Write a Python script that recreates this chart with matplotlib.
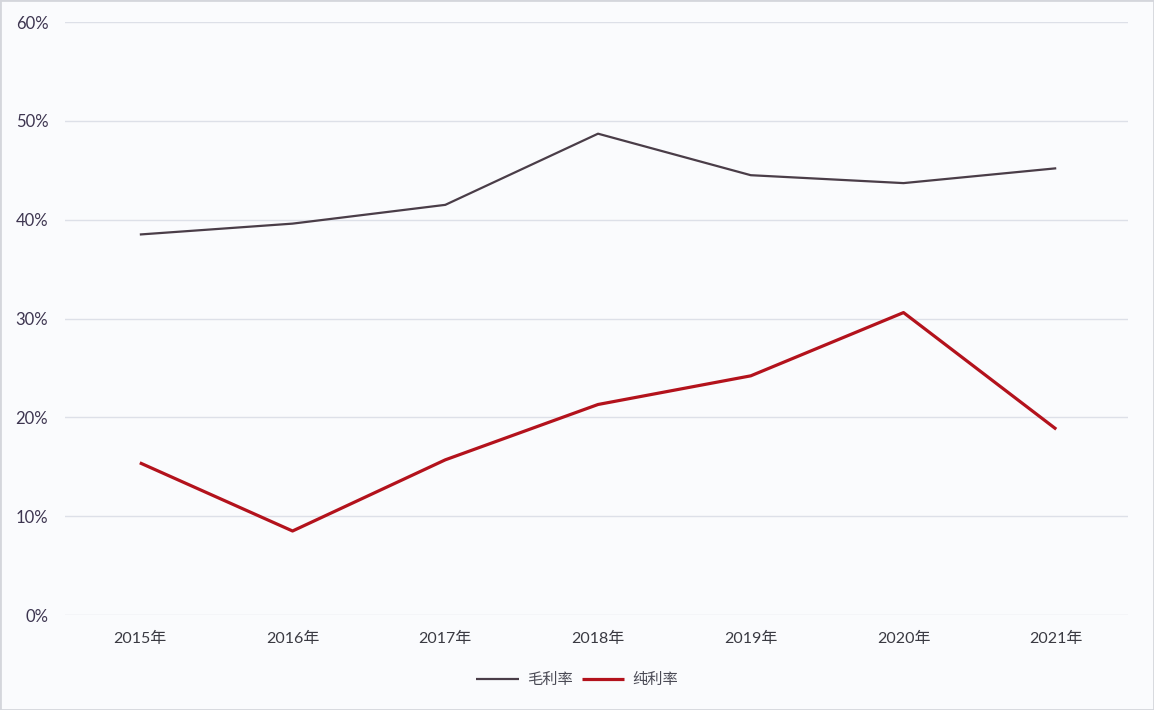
import matplotlib
matplotlib.use("Agg")
import matplotlib.pyplot as plt
from matplotlib.patches import Rectangle

years = ["2015年", "2016年", "2017年", "2018年", "2019年", "2020年", "2021年"]
gross_margin = [38.5, 39.6, 41.5, 48.7, 44.5, 43.7, 45.2]
net_margin = [15.4, 8.5, 15.7, 21.3, 24.2, 30.6, 18.8]
y_ticks = [0, 10, 20, 30, 40, 50, 60]
y_tick_labels = ["0%", "10%", "20%", "30%", "40%", "50%", "60%"]
series_names = ["毛利率", "纯利率"]

plt.rcParams['font.family'] = ['Lato', 'Noto Sans CJK SC', 'DejaVu Sans']

bg = "#fafbfd"
fig = plt.figure(figsize=(11.54, 7.1), dpi=100, facecolor=bg)
ax = fig.add_axes([0.0563, 0.1338, 0.9212, 0.8352], facecolor=bg)

x = list(range(len(years)))
ax.plot(x, gross_margin, color="#4a3d48", lw=1.6, label=series_names[0], solid_capstyle="butt")
ax.plot(x, net_margin, color="#b3121c", lw=2.3, label=series_names[1], solid_capstyle="butt")

ax.set_xlim(-0.49, 6.47)
ax.set_ylim(0, 60)
ax.set_yticks(y_ticks)
ax.set_yticklabels(y_tick_labels)
ax.set_xticks(x)
ax.set_xticklabels(years)
ax.grid(axis="y", color="#dde0e8", lw=1.0)
ax.set_axisbelow(True)
for s in ax.spines.values():
    s.set_visible(False)
ax.tick_params(axis="y", length=0, colors="#3d3550", labelsize=12, pad=12)
ax.tick_params(axis="x", length=0, colors="#3a3a42", labelsize=11.5, pad=12)

leg = fig.legend(loc="center", bbox_to_anchor=(0.5, 0.042), ncol=2, frameon=False,
                 fontsize=11, handlelength=2.8, columnspacing=0.6, handletextpad=0.5)
for t in leg.get_texts():
    t.set_color("#4a4a55")

fig.patches.append(Rectangle((0, 0), 1, 1, transform=fig.transFigure, fill=False,
                             edgecolor="#d4d6dc", lw=2, zorder=0))

fig.savefig("out.png", dpi=100, facecolor=bg)
